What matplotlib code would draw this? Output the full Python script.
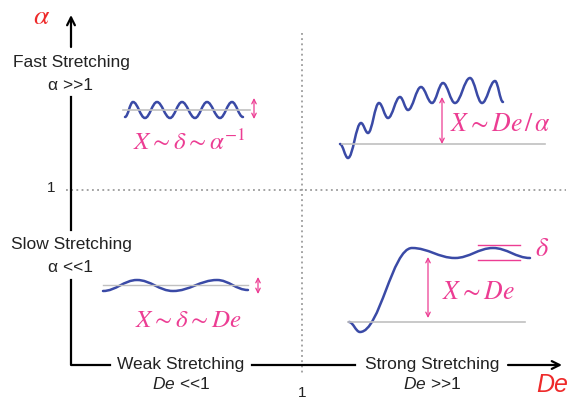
import matplotlib
matplotlib.use("Agg")
import matplotlib.pyplot as plt
from matplotlib.path import Path
from matplotlib.patches import PathPatch

plt.rcParams['font.family'] = ['Liberation Sans', 'DejaVu Sans']
plt.rcParams['mathtext.fontset'] = 'custom'
plt.rcParams['mathtext.rm'] = 'Liberation Sans'
plt.rcParams['mathtext.it'] = 'Liberation Sans:italic'

# schematic curves: extrema (pixel coords, y down)
fast_weak_x = [125, 133, 145, 157, 170, 182, 195, 207, 220, 232, 243]
fast_weak_y = [117, 102, 118, 102, 118, 102, 118, 102, 118, 102, 117]

fast_strong_x = [340, 348, 361, 368, 379, 388, 400, 408, 421, 432, 443, 455, 470, 482, 495, 503]
fast_strong_y = [144, 158, 123, 133, 103, 118, 97, 110, 87, 103, 83, 103, 78, 103, 81, 102]

slow_weak_x = [103, 137, 173, 217, 248]
slow_weak_y = [291, 280, 291, 280, 290]

slow_strong_x = [349, 360, 412, 455, 493, 530]
slow_strong_y = [322, 332, 248, 258, 248, 258]

BLUE = '#3a4aa6'
PINK = '#ec3d93'
RED = '#ee2a2a'
GRAY = '#c0c0c0'


def wave(ax, xs, ys, k=0.38):
    verts = [(xs[0], ys[0])]
    codes = [Path.MOVETO]
    for i in range(1, len(xs)):
        dx = xs[i] - xs[i - 1]
        verts += [(xs[i - 1] + k * dx, ys[i - 1]), (xs[i] - k * dx, ys[i]), (xs[i], ys[i])]
        codes += [Path.CURVE4] * 3
    ax.add_patch(PathPatch(Path(verts, codes), fill=False, edgecolor=BLUE, lw=1.8,
                           capstyle='round'))


def darrow(ax, x, y0, y1):
    ax.annotate('', xy=(x, y0), xytext=(x, y1),
                arrowprops=dict(arrowstyle='<->', color=PINK, lw=0.9,
                                mutation_scale=8, shrinkA=0, shrinkB=0))


fig = plt.figure(figsize=(5.73, 3.99), dpi=100)
ax = fig.add_axes([0, 0, 1, 1])
ax.set_xlim(0, 573)
ax.set_ylim(399, 0)
ax.axis('off')

# dotted dividers
ax.plot([66, 566], [190, 190], color='#8a8a8a', lw=1.1, ls=(0, (1.2, 2.2)))
ax.plot([302, 302], [33, 375], color='#8a8a8a', lw=1.1, ls=(0, (1.2, 2.2)))

# axes (broken around labels)
ax.annotate('', xy=(71, 15), xytext=(71, 47),
            arrowprops=dict(arrowstyle='->', color='black', lw=1.6, mutation_scale=14,
                            shrinkA=0, shrinkB=0))
ax.plot([71, 71], [97, 230], color='black', lw=1.6)
ax.plot([71, 71, 110], [280, 365, 365], color='black', lw=1.6)
ax.plot([252, 355], [365, 365], color='black', lw=1.6)
ax.annotate('', xy=(562, 365), xytext=(508, 365),
            arrowprops=dict(arrowstyle='->', color='black', lw=1.6, mutation_scale=14,
                            shrinkA=0, shrinkB=0))

# axis texts
fs = 12.5
ax.text(71, 63, 'Fast Stretching', fontsize=fs, ha='center', va='center', color='#222')
ax.text(71, 86, 'α >>1', fontsize=fs, ha='center', va='center', color='#222')
ax.text(71, 245, 'Slow Stretching', fontsize=fs, ha='center', va='center', color='#222')
ax.text(71, 268, 'α <<1', fontsize=fs, ha='center', va='center', color='#222')
ax.text(181, 364, 'Weak Stretching', fontsize=fs, ha='center', va='center', color='#222')
ax.text(181, 384, r'$De$ <<1', fontsize=fs, ha='center', va='center', color='#222')
ax.text(432, 364, 'Strong Stretching', fontsize=fs, ha='center', va='center', color='#222')
ax.text(432, 384, r'$De$ >>1', fontsize=fs, ha='center', va='center', color='#222')
ax.text(51, 188, '1', fontsize=11, ha='center', va='center', color='#222')
ax.text(302, 393, '1', fontsize=11, ha='center', va='center', color='#222')
ax.text(42, 17, r'$\alpha$', fontsize=20, ha='center', va='center', color=RED,
        math_fontfamily='stix')
ax.text(536, 385, 'De', fontsize=18, ha='left', va='center', color=RED, style='italic')

# quadrant: fast / weak
ax.plot([123, 250], [110, 110], color=GRAY, lw=1.2)
wave(ax, fast_weak_x, fast_weak_y)
darrow(ax, 254, 98, 119)
ax.text(189, 142, r'$X\sim\delta\sim\alpha^{-1}$', fontsize=18, ha='center', va='center',
        color=PINK, math_fontfamily='stix')

# quadrant: fast / strong
ax.plot([342, 545], [144, 144], color=GRAY, lw=1.2)
wave(ax, fast_strong_x, fast_strong_y)
darrow(ax, 442, 97, 144)
ax.text(450, 124, r'$X\sim De\,/\,\alpha$', fontsize=18.5, ha='left', va='center',
        color=PINK, math_fontfamily='stix')

# quadrant: slow / weak
ax.plot([103, 248], [285, 285], color=GRAY, lw=1.0)
wave(ax, slow_weak_x, slow_weak_y)
darrow(ax, 258, 277, 294)
ax.text(188, 320, r'$X\sim\delta\sim De$', fontsize=18, ha='center', va='center',
        color=PINK, math_fontfamily='stix')

# quadrant: slow / strong
ax.plot([348, 525], [322, 322], color=GRAY, lw=1.2)
wave(ax, slow_strong_x, slow_strong_y)
darrow(ax, 428, 257, 318)
ax.plot([478, 520], [245, 245], color=PINK, lw=1.0)
ax.plot([478, 520], [260, 260], color=PINK, lw=1.0)
ax.text(442, 292, r'$X\sim De$', fontsize=18.5, ha='left', va='center',
        color=PINK, math_fontfamily='stix')
ax.text(535, 249, r'$\delta$', fontsize=19, ha='left', va='center',
        color=PINK, math_fontfamily='stix')

fig.savefig('out.png', dpi=100)
